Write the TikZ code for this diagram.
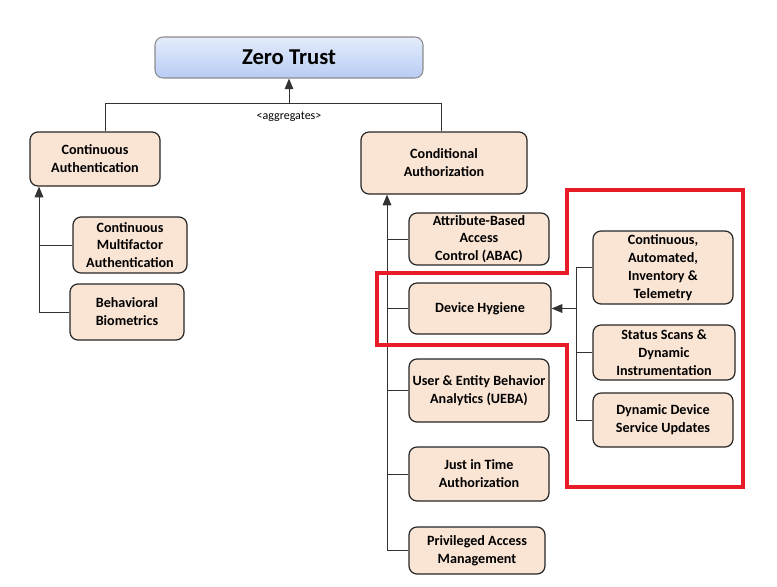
\documentclass[tikz,border=0pt]{standalone}
\usepackage{fontspec}
\setmainfont{Carlito}
\usetikzlibrary{arrows.meta}
\definecolor{peach}{RGB}{250,228,212}
\definecolor{ztop}{RGB}{228,236,252}
\definecolor{zbot}{RGB}{184,204,244}
\definecolor{redline}{RGB}{232,28,36}
\definecolor{conn}{RGB}{50,50,50}
\begin{document}
\begin{tikzpicture}[x=0.75pt,y=-0.75pt,
  box/.style={draw=black!85, line width=0.9pt, rounded corners=6pt, fill=peach,
    font=\bfseries\fontsize{10.6}{13.4}\selectfont, align=center, inner sep=0pt},
  ztbox/.style={draw=black!45, line width=0.8pt, rounded corners=6pt,
    top color=ztop, bottom color=zbot, font=\bfseries\fontsize{17}{20}\selectfont,
    inner sep=0pt, minimum width=201pt, minimum height=30.75pt},
  link/.style={draw=conn, line width=0.75pt},
  arr/.style={link, -{Triangle[width=6.5pt,length=8pt]}},
  redbox/.style={draw=redline, line width=2.6pt}]
\useasboundingbox (0,0) rectangle (777,586);

\node[ztbox] (zt) at (289,57.5) {Zero Trust};
\node[font=\fontsize{9}{10}\selectfont] (agg) at (289,117) {<aggregates>};

\node[box, minimum width=97.5pt, minimum height=40.5pt] (ca) at (95,159) {Continuous\\Authentication};
\node[box, minimum width=85.5pt, minimum height=42pt] (cma) at (130,245) {Continuous\\Multifactor\\Authentication};
\node[box, minimum width=85.5pt, minimum height=42pt] (bb) at (127,312) {Behavioral\\Biometrics};

\node[box, minimum width=124.5pt, minimum height=46.5pt] (cond) at (444,163) {Conditional\\Authorization};
\node[box, minimum width=105pt, minimum height=39pt] (abac) at (479,239) {Attribute-Based\\Access\\Control (ABAC)};
\node[box, minimum width=106.5pt, minimum height=38.25pt] (dh) at (480,308.5) {Device Hygiene};
\node[box, minimum width=105pt, minimum height=47.25pt] (ueba) at (479,390.5) {User \& Entity Behavior\\Analytics (UEBA)};
\node[box, minimum width=105pt, minimum height=40.5pt] (jit) at (479,474) {Just in Time\\Authorization};
\node[box, minimum width=102pt, minimum height=35.25pt] (pam) at (477,550.5) {Privileged Access\\Management};

\node[box, minimum width=105pt, minimum height=54.75pt] (cait) at (663,267.5) {Continuous,\\Automated,\\Inventory \&\\Telemetry};
\node[box, minimum width=106.5pt, minimum height=41.25pt] (ss) at (664,352.5) {Status Scans \&\\Dynamic\\Instrumentation};
\node[box, minimum width=105pt, minimum height=40.5pt] (ddsu) at (663,420) {Dynamic Device\\Service Updates};

% top aggregation bus
\coordinate (bus) at (289,103);
\coordinate (l1) at (105,103);
\coordinate (r1) at (441,103);
\draw[link] (ca.north -| l1) -- (l1) -- (r1) -- (cond.north -| r1);
\draw[arr] (bus) -- (zt.south);

% left tree
\coordinate (lt) at (39,0);
\draw[arr] (bb.west -| lt) -- (ca.south -| lt);
\draw[link] (cma.west -| lt) -- (cma.west);
\draw[link] (bb.west -| lt) -- (bb.west);

% right tree
\coordinate (rt) at (387,0);
\draw[arr] (pam.west -| rt) -- (cond.south -| rt);
\foreach \n in {abac,dh,ueba,jit,pam} \draw[link] (\n.west -| rt) -- (\n.west);

% device hygiene sub-tree
\coordinate (st) at (576,0);
\draw[link] (cait.west -| st) -- (ddsu.west -| st);
\foreach \n in {cait,ss,ddsu} \draw[link] (\n.west -| st) -- (\n.west);
\draw[arr] (dh.east -| st) -- (dh.east);

% red highlight outline
\draw[redbox] (377,273) -- (567,273) -- (567,190) -- (743,190) -- (743,487)
  -- (567,487) -- (567,345) -- (377,345) -- cycle;
\end{tikzpicture}
\end{document}
